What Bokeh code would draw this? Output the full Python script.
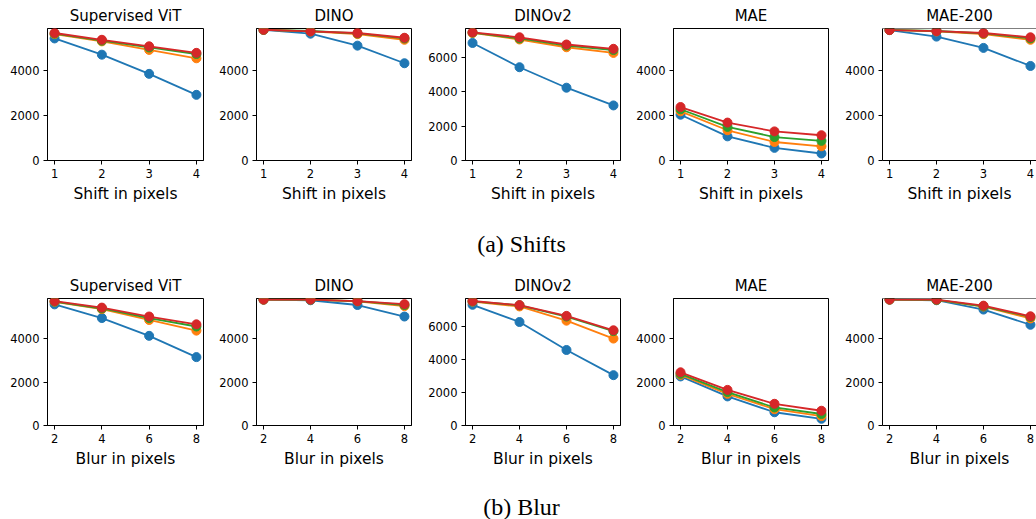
from bokeh.plotting import figure
from bokeh.layouts import row, column
from bokeh.models import Range1d, FixedTicker, Span
from bokeh.embed import file_html
from bokeh.resources import INLINE
from bokeh.core.properties import value

# ---------------- data ----------------
models = ["Supervised ViT", "DINO", "DINOv2", "MAE", "MAE-200"]
shift_x = [1, 2, 3, 4]
blur_x = [2, 4, 6, 8]
shift_label = "Shift in pixels"
blur_label = "Blur in pixels"
captions = ["(a) Shifts", "(b) Blur"]

# each panel: four series (blue, orange, green, red)
sup_vit_shift = [[5410, 4690, 3840, 2910], [5600, 5280, 4900, 4530],
                 [5620, 5310, 5010, 4720], [5650, 5350, 5060, 4770]]
dino_shift = [[5790, 5620, 5090, 4310], [5790, 5720, 5600, 5350],
              [5795, 5740, 5630, 5410], [5795, 5725, 5650, 5440]]
dinov2_shift = [[6830, 5420, 4230, 3200], [7410, 7030, 6580, 6250],
                [7430, 7090, 6680, 6420], [7450, 7160, 6740, 6490]]
mae_shift = [[2030, 1070, 560, 310], [2180, 1340, 820, 630],
             [2270, 1490, 1040, 870], [2370, 1680, 1290, 1120]]
mae200_shift = [[5780, 5490, 4990, 4190], [5790, 5720, 5600, 5350],
                [5790, 5740, 5630, 5410], [5780, 5735, 5650, 5460]]

sup_vit_blur = [[5580, 4950, 4130, 3150], [5700, 5360, 4860, 4370],
                [5710, 5390, 4950, 4560], [5730, 5430, 5020, 4660]]
dino_blur = [[5800, 5770, 5550, 5020], [5800, 5800, 5720, 5500],
             [5800, 5800, 5730, 5550], [5800, 5800, 5730, 5590]]
dinov2_blur = [[7290, 6250, 4560, 3040], [7480, 7190, 6330, 5250],
               [7500, 7260, 6580, 5700], [7520, 7270, 6620, 5750]]
mae_blur = [[2260, 1340, 610, 310], [2330, 1460, 750, 430],
            [2380, 1540, 830, 530], [2450, 1640, 1000, 680]]
mae200_blur = [[5800, 5770, 5340, 4640], [5800, 5790, 5480, 4930],
               [5800, 5790, 5490, 5000], [5800, 5800, 5520, 5030]]

y_max = [5850, 5850, 7670, 5850, 5850]
y_ticks = [[0, 2000, 4000], [0, 2000, 4000], [0, 2000, 4000, 6000],
           [0, 2000, 4000], [0, 2000, 4000]]

# ---------------- style ----------------
COLORS = ["#1f77b4", "#ff7f0e", "#2ca02c", "#d62728"]
FONT = "DejaVu Sans"
FIG_W = [216, 209, 208, 209, 194]
BORDER_L = [47, 39, 39, 39, 39]
FRAME_W = [156, 156, 156, 156, 155]
FRAME_H = 132
PX_PER_STEP = 156 / 3.3


def make_panel(i, title, xs, series, xlabel, border_top):
    fw = FIG_W[i]
    last = i == len(FIG_W) - 1
    frame_w = FRAME_W[i]
    step = xs[1] - xs[0]
    x0 = xs[0] - 0.15 * step
    x1 = x0 + frame_w / PX_PER_STEP * step
    p = figure(width=fw, height=border_top + FRAME_H + 50,
               x_range=Range1d(x0, x1), y_range=Range1d(0, y_max[i]),
               output_backend="svg", toolbar_location=None,
               min_border_left=BORDER_L[i], min_border_right=fw - BORDER_L[i] - frame_w,
               min_border_top=border_top, min_border_bottom=50,
               background_fill_color="white", border_fill_color="white")
    p.title.text = title
    p.title.align = "center"
    p.title.text_font = FONT
    p.title.text_font_size = "15px"
    p.title.text_font_style = "normal"
    p.title.text_color = "black"
    p.title.standoff = 8
    p.grid.visible = False
    if last:
        p.outline_line_color = None
        p.add_layout(Span(location=y_max[i], dimension="width",
                          line_color="black", line_width=1))
    else:
        p.outline_line_color = "black"
        p.outline_line_width = 1
    for ax in (p.xaxis[0], p.yaxis[0]):
        ax.axis_line_color = "black"
        ax.major_tick_line_color = "black"
        ax.major_tick_out = 4
        ax.major_tick_in = 0
        ax.minor_tick_line_color = None
        ax.major_label_text_font = FONT
        ax.major_label_text_font_size = "11.5px"
        ax.major_label_text_color = "black"
    p.xaxis.ticker = FixedTicker(ticks=xs)
    p.yaxis.ticker = FixedTicker(ticks=y_ticks[i])
    p.xaxis.major_label_standoff = 4
    p.yaxis.major_label_standoff = 4
    p.xaxis.axis_label = xlabel
    p.xaxis.axis_label_text_font = FONT
    p.xaxis.axis_label_text_font_size = "15.5px"
    p.xaxis.axis_label_text_font_style = "normal"
    p.xaxis.axis_label_text_color = "black"
    p.xaxis.axis_label_standoff = 4
    for ys, c in zip(series, COLORS):
        p.line(xs, ys, line_color=c, line_width=1.8)
        p.scatter(xs, ys, size=9, fill_color=c, line_color=c)
    return p


def caption(text, h, yc):
    c = figure(width=1036, height=h, x_range=Range1d(0, 1036), y_range=Range1d(0, h),
               output_backend="svg", toolbar_location=None, min_border=0,
               x_axis_location=None, y_axis_location=None)
    c.grid.visible = False
    c.outline_line_color = None
    c.text(x=[521], y=[h - yc], text=[text], text_font=value("Liberation Serif"),
           text_font_size="24px", text_align="center", text_baseline="middle",
           text_color="black")
    return c


shift_data = [sup_vit_shift, dino_shift, dinov2_shift, mae_shift, mae200_shift]
blur_data = [sup_vit_blur, dino_blur, dinov2_blur, mae_blur, mae200_blur]

top = row([make_panel(i, models[i], shift_x, shift_data[i], shift_label, 28)
           for i in range(5)], spacing=0)
bottom = row([make_panel(i, models[i], blur_x, blur_data[i], blur_label, 23)
              for i in range(5)], spacing=0)

layout = column([top, caption(captions[0], 60, 33), bottom, caption(captions[1], 44, 31)],
                spacing=0)

open("out.html", "w").write(file_html(layout, INLINE))
